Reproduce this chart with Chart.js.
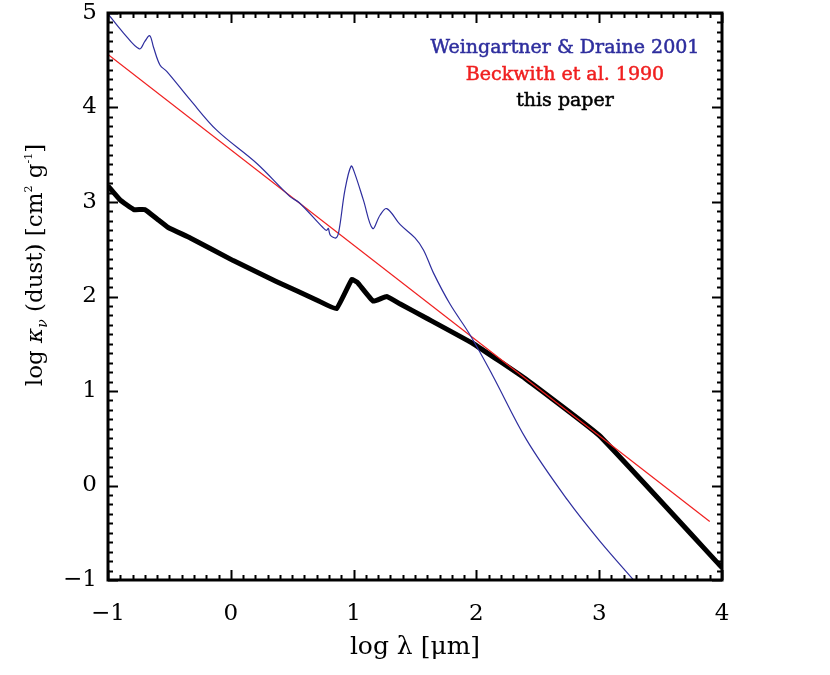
<!DOCTYPE html>
<html>
<head>
<meta charset="utf-8">
<script src="https://cdn.jsdelivr.net/npm/chart.js@4/dist/chart.umd.min.js"></script>
<style>
  body { margin: 0; background: #fff; }
  #wrap { width: 830px; height: 675px; }
</style>
</head>
<body>
<div id="wrap"><canvas id="dustChart" width="830" height="675"></canvas></div>
<script>
// log lambda [um] / log kappa values
const wdX = [-1, -0.875, -0.745, -0.70, -0.66, -0.63, -0.577, -0.52, -0.33, -0.115, 0.21, 0.48, 0.56, 0.75, 0.78, 0.794, 0.81, 0.856, 0.88, 0.93, 0.98, 1.01, 1.08, 1.155, 1.215, 1.27, 1.38, 1.50, 1.57, 1.65, 1.785, 1.95, 2.13, 2.41, 2.74, 3.0, 3.3];
const wdY = [4.99, 4.79, 4.62, 4.70, 4.76, 4.64, 4.45, 4.38, 4.08, 3.76, 3.41, 3.06, 2.99, 2.73, 2.70, 2.72, 2.65, 2.62, 2.69, 3.13, 3.38, 3.30, 3.02, 2.72, 2.86, 2.93, 2.76, 2.62, 2.49, 2.25, 1.92, 1.59, 1.17, 0.48, -0.15, -0.58, -1.03];

const beckX = [-1, 3.9];
const beckY = [4.56, -0.38];

const paperX = [-1, -0.90, -0.79, -0.70, -0.60, -0.51, -0.33, 0.02, 0.37, 0.72, 0.86, 0.985, 1.03, 1.16, 1.27, 1.38, 1.595, 1.975, 2.41, 3.0, 4.0];
const paperY = [3.17, 3.02, 2.92, 2.92, 2.82, 2.73, 2.62, 2.38, 2.16, 1.95, 1.87, 2.18, 2.15, 1.95, 2.00, 1.92, 1.77, 1.50, 1.12, 0.53, -0.87];

const legendNames = ["Weingartner & Draine 2001", "Beckwith et al. 1990", "this paper"];
const legendColors = ["#2e2e9e", "#f02020", "#000000"];

const xMin = -1, xMax = 4;
const yMin = -1, yMax = 5;

const pts = (xs, ys) => xs.map((x, i) => ({ x: x, y: ys[i] }));

const serif = "'DejaVu Serif', 'Liberation Serif', serif";

// IDL style frame: box, inward ticks on all sides, legend text, y title
const idlFrame = {
  id: 'idlFrame',
  afterDatasetsDraw(chart) {
    const { ctx, chartArea: a, scales: { x, y } } = chart;
    ctx.save();
    ctx.strokeStyle = '#000';
    ctx.lineWidth = 2;
    ctx.beginPath();
    for (let i = 0; i <= (xMax - xMin) * 10; i++) {
      const v = xMin + i / 10;
      const px = Math.round(x.getPixelForValue(v)) + 0.5;
      const len = i % 10 === 0 ? 10 : 5;
      ctx.moveTo(px, a.bottom); ctx.lineTo(px, a.bottom - len);
      ctx.moveTo(px, a.top); ctx.lineTo(px, a.top + len);
    }
    for (let i = 0; i <= (yMax - yMin) * 10; i++) {
      const v = yMin + i / 10;
      const py = Math.round(y.getPixelForValue(v)) + 0.5;
      const len = i % 10 === 0 ? 10 : 5;
      ctx.moveTo(a.left, py); ctx.lineTo(a.left + len, py);
      ctx.moveTo(a.right, py); ctx.lineTo(a.right - len, py);
    }
    ctx.stroke();
    ctx.lineWidth = 3;
    ctx.strokeRect(a.left, a.top, a.right - a.left, a.bottom - a.top);

    // legend
    ctx.font = "19px " + serif;
    ctx.textAlign = 'center';
    ctx.textBaseline = 'alphabetic';
    ctx.lineWidth = 0.5;
    legendNames.forEach((t, i) => {
      ctx.fillStyle = legendColors[i];
      ctx.strokeStyle = legendColors[i];
      ctx.fillText(t, a.right - 157, 53 + i * 26.5);
      ctx.strokeText(t, a.right - 157, 53 + i * 26.5);
    });

    // y title with sub/superscripts
    const parts = [
      { t: "log ", s: 23, dy: 0 },
      { t: "\u03BA", s: 23, dy: 0, it: true },
      { t: "\u03BD", s: 14, dy: 5, it: true },
      { t: " (dust) [cm", s: 23, dy: 0 },
      { t: "2", s: 11, dy: -10 },
      { t: " g", s: 23, dy: 0 },
      { t: "-1", s: 11, dy: -10 },
      { t: "]", s: 23, dy: 0 }
    ];
    const fontOf = p => (p.it ? "italic " : "") + p.s + "px " + serif;
    let total = 0;
    parts.forEach(p => { ctx.font = fontOf(p); p.w = ctx.measureText(p.t).width; total += p.w; });
    ctx.translate(42, 265);
    ctx.rotate(-Math.PI / 2);
    ctx.fillStyle = '#000';
    ctx.textAlign = 'left';
    let cx = -total / 2;
    parts.forEach(p => { ctx.font = fontOf(p); ctx.fillText(p.t, cx, p.dy); cx += p.w; });
    ctx.restore();
  }
};

new Chart(document.getElementById('dustChart'), {
  type: 'scatter',
  data: {
    datasets: [
      {
        label: legendNames[0],
        data: pts(wdX, wdY),
        showLine: true,
        borderColor: legendColors[0],
        borderWidth: 1.2,
        pointRadius: 0,
        tension: 0.35
      },
      {
        label: legendNames[1],
        data: pts(beckX, beckY),
        showLine: true,
        borderColor: legendColors[1],
        borderWidth: 1.2,
        pointRadius: 0
      },
      {
        label: legendNames[2],
        data: pts(paperX, paperY),
        showLine: true,
        borderColor: legendColors[2],
        borderWidth: 5,
        borderJoinStyle: 'round',
        borderCapStyle: 'butt',
        pointRadius: 0,
        tension: 0.1
      }
    ]
  },
  options: {
    responsive: false,
    animation: false,
    devicePixelRatio: 1,
    layout: { padding: { top: 13, right: 108, left: 0, bottom: 0 } },
    plugins: {
      legend: { display: false },
      tooltip: { enabled: false }
    },
    scales: {
      x: {
        type: 'linear',
        min: xMin,
        max: xMax,
        grid: { display: false, drawTicks: false },
        border: { display: false },
        ticks: {
          stepSize: 1,
          color: '#000',
          padding: 20,
          font: { family: serif, size: 23 },
          callback: v => String(v).replace('-', '\u2212')
        },
        title: {
          display: true,
          text: 'log \u03BB [\u03BCm]',
          color: '#000',
          font: { family: serif, size: 25 },
          padding: { top: 0, bottom: 13 }
        },
        afterFit: s => { s.height = 95; s.paddingLeft = 0; s.paddingRight = 0; }
      },
      y: {
        type: 'linear',
        min: yMin,
        max: yMax,
        grid: { display: false, drawTicks: false },
        border: { display: false },
        ticks: {
          stepSize: 1,
          color: '#000',
          padding: 11,
          font: { family: serif, size: 23 },
          callback: v => String(v).replace('-', '\u2212')
        },
        afterFit: s => { s.width = 108; s.paddingTop = 0; s.paddingBottom = 0; }
      }
    }
  },
  plugins: [idlFrame]
});
</script>
</body>
</html>
